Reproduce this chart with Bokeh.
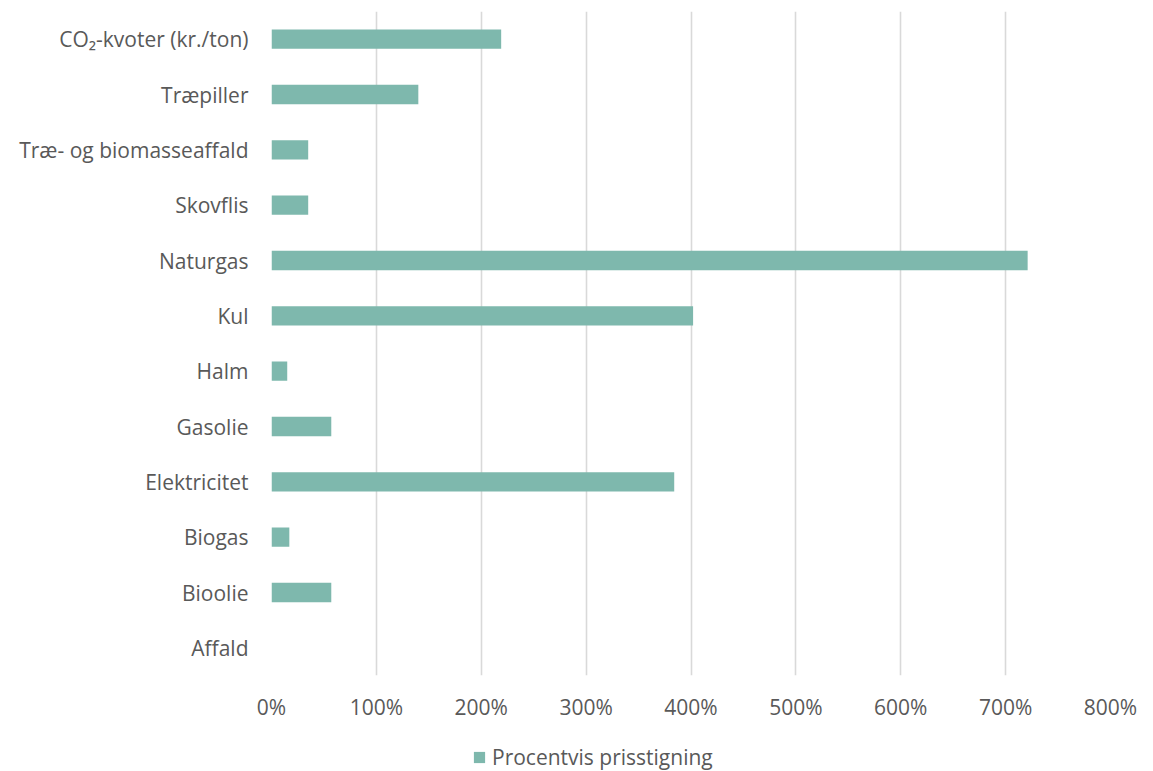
from bokeh.plotting import figure
from bokeh.layouts import column
from bokeh.models import FactorRange, Range1d, Legend, LegendItem, FixedTicker, PrintfTickFormatter, ColumnDataSource
from bokeh.embed import file_html
from bokeh.resources import INLINE

# categories listed bottom -> top
categories = ["Affald", "Bioolie", "Biogas", "Elektricitet", "Gasolie", "Halm", "Kul",
              "Naturgas", "Skovflis", "Træ- og biomasseaffald", "Træpiller", "CO₂-kvoter (kr./ton)"]
values = [0, 57, 17, 384, 57, 15, 402, 721, 35, 35, 140, 219]
x_ticks = [0, 100, 200, 300, 400, 500, 600, 700, 800]
series_name = "Procentvis prisstigning"

FONT = "Open Sans"
TXT = "#595959"
BAR = "#7EB8AD"
FS = "21px"

src = ColumnDataSource(dict(cat=categories, val=values))

p = figure(
    y_range=FactorRange(factors=categories, range_padding=0),
    x_range=Range1d(0, 800),
    output_backend="svg", toolbar_location=None,
    frame_width=839, frame_height=664,
    min_border_left=271, min_border_top=11, min_border_right=43, min_border_bottom=60,
)
p.outline_line_color = None
p.background_fill_color = "white"

r = p.hbar(y="cat", right="val", left=0, height=0.35, source=src,
           fill_color=BAR, line_color=None)

p.ygrid.grid_line_color = None
p.xgrid.grid_line_color = "#D9D9D9"
p.xgrid.grid_line_width = 1.6
p.xaxis.ticker = FixedTicker(ticks=x_ticks)
p.xaxis.formatter = PrintfTickFormatter(format="%d%%")

for ax in (p.xaxis[0], p.yaxis[0]):
    ax.axis_line_color = None
    ax.major_tick_line_color = None
    ax.minor_tick_line_color = None
    ax.major_label_text_font = FONT
    ax.major_label_text_font_size = FS
    ax.major_label_text_color = TXT

p.yaxis.major_label_standoff = 17
p.xaxis.major_label_standoff = 11

# legend strip below the chart (holds a zero-length copy of the first bar so the swatch draws)
leg = figure(
    width=1153, height=36,
    x_range=Range1d(0, 800), y_range=FactorRange(factors=categories[:1]),
    x_axis_location=None, y_axis_location=None,
    output_backend="svg", toolbar_location=None,
    min_border=0,
)
leg.outline_line_color = None
leg.xgrid.grid_line_color = None
leg.ygrid.grid_line_color = None
legend_src = ColumnDataSource(dict(cat=categories[:1], val=values[:1]))
lr = leg.hbar(y="cat", right="val", left=0, height=0.35, source=legend_src,
              fill_color=BAR, line_color=None)

legend = Legend(items=[LegendItem(label=series_name, renderers=[lr])],
                orientation="horizontal", location=(201, 0),
                label_text_font=FONT, label_text_font_size=FS, label_text_color=TXT,
                glyph_width=14, glyph_height=14, border_line_color=None,
                background_fill_alpha=0, margin=0, padding=0, label_standoff=6)
leg.add_layout(legend, "center")

open("out.html", "w").write(file_html(column(p, leg), INLINE))
